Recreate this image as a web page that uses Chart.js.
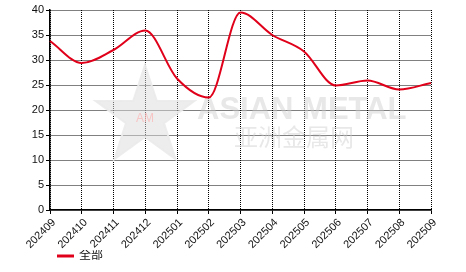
<!DOCTYPE html>
<html>
<head>
<meta charset="utf-8">
<script src="https://cdn.jsdelivr.net/npm/chart.js@4"></script>
<style>
  html, body { margin: 0; padding: 0; background: #fff; }
  #wrap { width: 466px; height: 272px; }
</style>
</head>
<body>
<div id="wrap"><canvas id="chart" width="466" height="272"></canvas></div>
<script>
// months on the x axis
const months = ['202409', '202410', '202411', '202412', '202501', '202502', '202503',
  '202504', '202505', '202506', '202507', '202508', '202509'];
// series "全部"
const allValues = [33.8, 29.4, 32.0, 35.9, 26.3, 22.5, 39.5, 35.0, 31.7, 24.9, 25.9, 24.1, 25.4];
const yTicks = [0, 5, 10, 15, 20, 25, 30, 35, 40];

const FONT = "'Liberation Sans', Arial, 'Noto Sans CJK SC', sans-serif";
const RED = '#e0001a';

// grey watermark behind the line
const watermark = {
  id: 'watermark',
  beforeDatasetsDraw(chart) {
    const ctx = chart.ctx;
    ctx.save();
    // star
    const cx = 145, cy = 117, R = 52, r = 20;
    ctx.beginPath();
    for (let i = 0; i < 10; i++) {
      const a = -Math.PI / 2 + i * Math.PI / 5;
      const rad = i % 2 === 0 ? R : r;
      ctx.lineTo(cx + rad * Math.cos(a), cy + rad * Math.sin(a));
    }
    ctx.closePath();
    ctx.fillStyle = 'rgba(220,220,220,0.5)';
    ctx.fill();
    ctx.strokeStyle = 'rgba(235,235,235,0.9)';
    ctx.lineWidth = 2;
    ctx.stroke();
    ctx.font = '12px ' + FONT;
    ctx.fillStyle = 'rgba(255,170,170,0.6)';
    ctx.textAlign = 'center';
    ctx.textBaseline = 'middle';
    ctx.fillText('AM', cx, cy + 2);
    ctx.font = 'bold 31px ' + FONT;
    ctx.fillStyle = 'rgba(205,205,205,0.45)';
    ctx.textAlign = 'left';
    ctx.textBaseline = 'alphabetic';
    ctx.fillText('ASIAN METAL', 197, 119);
    ctx.font = '24px ' + FONT;
    ctx.fillText('亚洲金属网', 234, 146);
    ctx.restore();
  }
};

// push the legend to the right, under the axis
const legendShift = {
  id: 'legendShift',
  afterLayout(chart) {
    chart.legend.left = 57;
  }
};

new Chart(document.getElementById('chart'), {
  type: 'line',
  data: {
    labels: months,
    datasets: [{
      label: '全部',
      data: allValues,
      borderColor: RED,
      backgroundColor: RED,
      borderWidth: 2,
      pointRadius: 0,
      cubicInterpolationMode: 'monotone',
      fill: false
    }]
  },
  options: {
    responsive: false,
    animation: false,
    layout: { padding: { top: 10, right: 35, left: 0, bottom: 0 } },
    scales: {
      x: {
        offset: false,
        afterFit(scale) { scale.height = 40; },
        grid: {
          color: '#000',
          lineWidth: 1,
          drawTicks: true,
          tickLength: 4,
          tickColor: '#000',
          tickBorderDash: []
        },
        border: { display: true, color: '#000', width: 1.5, dash: [1, 1] },
        ticks: {
          color: '#111',
          font: { family: FONT, size: 11 },
          maxRotation: 45,
          minRotation: 45,
          autoSkip: false,
          padding: 2,
          labelOffset: 4
        }
      },
      y: {
        min: 0,
        max: 40,
        afterFit(scale) { scale.width = 50; },
        afterBuildTicks(scale) { scale.ticks = yTicks.map(v => ({ value: v })); },
        grid: {
          color: '#000',
          lineWidth: 1,
          drawTicks: true,
          tickLength: 4,
          tickColor: '#000',
          tickBorderDash: []
        },
        border: { display: true, color: '#000', width: 1.5, dash: [1, 1] },
        ticks: {
          color: '#111',
          font: { family: FONT, size: 11 },
          padding: 2
        }
      }
    },
    plugins: {
      legend: {
        position: 'bottom',
        align: 'start',
        labels: {
          boxWidth: 16,
          boxHeight: 1,
          padding: 0,
          color: '#111',
          font: { family: FONT, size: 12 }
        }
      },
      tooltip: { enabled: false }
    }
  },
  plugins: [watermark, legendShift]
});
</script>
</body>
</html>
